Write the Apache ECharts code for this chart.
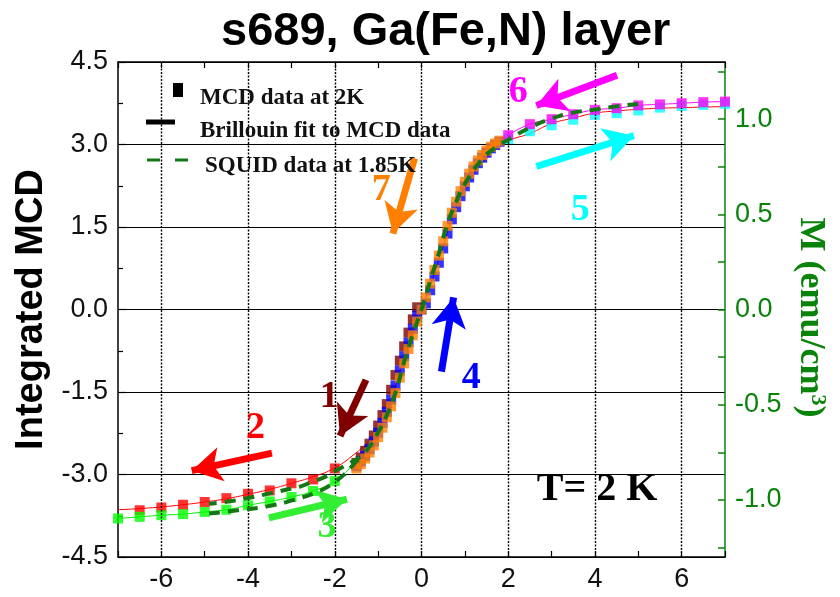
<!DOCTYPE html>
<html>
<head>
<meta charset="utf-8">
<script src="https://cdn.jsdelivr.net/npm/echarts@6/dist/echarts.min.js"></script>
<style>
html, body { margin: 0; padding: 0; background: #ffffff; }
#chart { width: 840px; height: 597px; }
</style>
</head>
<body>
<div id="chart"></div>
<script>
// ---- Field sweeps (T) and integrated MCD signal, one pair of arrays per sweep branch ----
// 1: virgin sweep towards negative field
const field1 = [-0.1, -0.2, -0.3, -0.4, -0.5, -0.6, -0.7, -0.8, -0.9, -1.0, -1.1, -1.2, -1.3, -1.4, -1.5];
const mcd1   = [0.04, -0.18, -0.42, -0.67, -0.93, -1.19, -1.46, -1.72, -1.92, -2.11, -2.29, -2.44, -2.57, -2.69, -2.79];
// 2: -2 T down to -7 T
const field2 = [-2, -2.5, -3, -3.5, -4, -4.5, -5, -5.5, -6, -6.5];
const mcd2   = [-2.89, -3.09, -3.16, -3.29, -3.35, -3.43, -3.50, -3.55, -3.60, -3.65];
// 3: -7 T back up to -2 T
const field3 = [-7, -6.5, -6, -5.5, -5, -4.5, -4, -3.5, -3, -2.5, -2];
const mcd3   = [-3.80, -3.77, -3.74, -3.72, -3.68, -3.64, -3.56, -3.49, -3.41, -3.30, -3.12];
// 4: -1.5 T up to +1.8 T
const field4 = [-1.5, -1.4, -1.3, -1.2, -1.1, -1.0, -0.9, -0.8, -0.7, -0.6, -0.5, -0.4, -0.3, -0.2, -0.1, 0,
                0.1, 0.2, 0.3, 0.4, 0.5, 0.6, 0.7, 0.8, 0.9, 1.0, 1.1, 1.2, 1.3, 1.4, 1.5, 1.6, 1.7, 1.8];
const mcd4   = [-2.85, -2.76, -2.66, -2.54, -2.40, -2.24, -2.06, -1.86, -1.64, -1.38, -1.11, -0.85, -0.60, -0.35, -0.11, 0.0,
                0.11, 0.35, 0.60, 0.85, 1.11, 1.38, 1.64, 1.86, 2.06, 2.24, 2.40, 2.54, 2.66, 2.76, 2.85, 2.93, 2.99, 3.05];
// 5: +2 T up to +7 T
const field5 = [2, 2.5, 3, 3.5, 4, 4.5, 5, 5.5, 6, 6.5, 7];
const mcd5   = [3.10, 3.24, 3.35, 3.45, 3.54, 3.57, 3.62, 3.67, 3.70, 3.72, 3.74];
// 6: +7 T back down to +2 T
const field6 = [7, 6.5, 6, 5.5, 5, 4.5, 4, 3.5, 3, 2.5, 2];
const mcd6   = [3.78, 3.77, 3.75, 3.73, 3.71, 3.66, 3.63, 3.55, 3.46, 3.37, 3.17];
// 7: +1.8 T down to -1.5 T
const field7 = [1.8, 1.7, 1.6, 1.5, 1.4, 1.3, 1.2, 1.1, 1.0, 0.9, 0.8, 0.7, 0.6, 0.5, 0.4, 0.3, 0.2, 0.1, 0,
                -0.1, -0.2, -0.3, -0.4, -0.5, -0.6, -0.7, -0.8, -0.9, -1.0, -1.1, -1.2, -1.3, -1.4, -1.5];
const mcd7   = [3.07, 3.02, 2.96, 2.89, 2.81, 2.71, 2.60, 2.47, 2.32, 2.15, 1.96, 1.76, 1.52, 1.24, 0.98, 0.72, 0.47, 0.22, 0.0,
                -0.22, -0.47, -0.72, -0.98, -1.24, -1.52, -1.76, -1.96, -2.15, -2.32, -2.47, -2.60, -2.71, -2.81, -2.89];

// Brillouin fit through the MCD data
const fitField = [-7, -6.5, -6, -5.5, -5, -4.5, -4, -3.5, -3, -2.5, -2, -1.5, -1.25, -1, -0.75, -0.5, -0.25, 0,
                  0.25, 0.5, 0.75, 1, 1.25, 1.5, 1.75, 2, 2.5, 3, 3.5, 4, 4.5, 5, 5.5, 6, 6.5, 7];
const fitMcd   = [-3.64, -3.62, -3.59, -3.55, -3.50, -3.44, -3.36, -3.27, -3.16, -3.04, -2.88, -2.60, -2.42, -2.18, -1.75, -1.15, -0.55, 0.0,
                  0.55, 1.15, 1.75, 2.2, 2.52, 2.75, 2.95, 3.07, 3.2, 3.38, 3.48, 3.57, 3.61, 3.64, 3.66, 3.67, 3.68, 3.69];
// thin guide through branch 3 into the steep part
const guide3Field = [-7, -6.5, -6, -5.5, -5, -4.5, -4, -3.5, -3, -2.5, -2, -1.55];
const guide3Mcd   = [-3.80, -3.77, -3.74, -3.72, -3.68, -3.64, -3.56, -3.49, -3.41, -3.30, -3.12, -2.80];

// SQUID magnetisation (emu/cm3), sweep down then sweep up
const squidDownField = [5.0, 4.5, 4.0, 3.5, 3.0, 2.5, 2.0, 1.7, 1.4, 1.0, 0.8, 0.6, 0.4, 0.2, 0.0, -0.2, -0.4, -0.6, -0.8, -1.0,
                        -1.2, -1.4, -1.6, -1.8, -2.0, -2.25, -2.5, -2.8, -3.0, -3.5, -4.0, -4.5, -4.9];
const squidDownM     = [1.08, 1.067, 1.05, 1.034, 1.003, 0.955, 0.892, 0.85, 0.79, 0.66, 0.565, 0.45, 0.295, 0.15, 0.0, -0.13, -0.275, -0.437, -0.555, -0.645,
                        -0.72, -0.77, -0.80, -0.825, -0.85, -0.882, -0.903, -0.93, -0.94, -0.966, -0.99, -1.01, -1.02];
const squidUpField = [-4.9, -4.25, -3.56, -2.95, -2.3, -2.0, -1.8, -1.6, -1.4];
const squidUpM     = [-1.072, -1.055, -1.034, -1.0, -0.948, -0.905, -0.87, -0.822, -0.77];

// Axis tick labels
const xTickLabels = [-6, -4, -2, 0, 2, 4, 6];
const mcdTickLabels = [-4.5, -3.0, -1.5, 0.0, 1.5, 3.0, 4.5];
const mTickLabels = [-1.0, -0.5, 0.0, 0.5, 1.0];
const mMinorTicks = [-1.25, -1.0, -0.75, -0.5, -0.25, 0, 0.25, 0.5, 0.75, 1.0, 1.25];

const SANS = '"Liberation Sans", Arial, sans-serif';
const SERIF = '"Liberation Serif", "Times New Roman", serif';
const AXIS_GREEN = '#0a830a';
const SQUID_GREEN = '#137813';

const pair = (xs, ys) => xs.map((x, i) => [x, ys[i]]);

// sweep-direction arrows and their numbers, in data coordinates (field, MCD)
const sweepArrows = [
  { n: '1', color: '#800000', from: [-1.28, -1.28], to: [-1.88, -2.30], text: [-2.13, -1.59] },
  { n: '2', color: '#ff0000', from: [-3.45, -2.61], to: [-5.30, -2.93], text: [-3.83, -2.15] },
  { n: '3', color: '#33ee33', from: [-3.52, -3.79], to: [-1.72, -3.45], text: [-2.18, -3.95] },
  { n: '4', color: '#0000ff', from: [0.46, -1.13], to: [0.74, 0.22], text: [1.15, -1.25] },
  { n: '5', color: '#00ffff', from: [2.65, 2.60], to: [4.90, 3.16], text: [3.66, 1.81] },
  { n: '6', color: '#ff00ff', from: [4.51, 4.26], to: [2.65, 3.71], text: [2.23, 3.96] },
  { n: '7', color: '#ff8000', from: [-0.16, 2.75], to: [-0.66, 1.38], text: [-0.93, 2.17] }
];

const squares = (name, xs, ys, color, z) => ({
  name: name, type: 'scatter', data: pair(xs, ys), symbol: 'rect', symbolSize: [10, 10],
  itemStyle: { color: color }, z: z, silent: true
});

const chart = echarts.init(document.getElementById('chart'), null, { renderer: 'canvas' });

const option = {
  animation: false,
  backgroundColor: '#ffffff',
  title: {
    text: 's689, Ga(Fe,N) layer',
    left: 216, top: 4,
    textStyle: { fontSize: 47, fontWeight: 'bold', fontFamily: SANS, color: '#000' }
  },
  grid: { left: 118, right: 115, top: 62, bottom: 40 },
  xAxis: [
    {
      type: 'value', min: -7, max: 7, interval: 1, position: 'bottom',
      axisLine: { onZero: false, lineStyle: { color: '#000', width: 1.5 } },
      axisTick: { inside: true, length: 6, lineStyle: { color: '#000', width: 1.2 } },
      axisLabel: {
        formatter: v => (xTickLabels.indexOf(v) >= 0 ? String(v) : ''),
        fontSize: 27, color: '#111', fontFamily: SANS, margin: 9
      },
      splitLine: { show: false }
    },
    {
      type: 'value', min: -7, max: 7, interval: 1, position: 'top',
      axisLine: { onZero: false, lineStyle: { color: '#000', width: 1.5 } },
      axisTick: { inside: true, length: 6, lineStyle: { color: '#000', width: 1.2 } },
      axisLabel: { show: false },
      splitLine: { show: false }
    }
  ],
  yAxis: [
    {
      type: 'value', min: -4.5, max: 4.5, interval: 1.5, position: 'left',
      axisLine: { show: true, onZero: false, lineStyle: { color: '#000', width: 1.5 } },
      axisTick: { show: true, inside: true, length: 8, lineStyle: { color: '#000', width: 1.2 } },
      minorTick: { show: true, splitNumber: 2, length: 5, lineStyle: { color: '#000', width: 1.2 } },
      axisLabel: {
        formatter: v => (mcdTickLabels.indexOf(v) >= 0 ? v.toFixed(1) : ''),
        fontSize: 27, color: '#111', fontFamily: SANS, margin: 10
      },
      splitLine: { show: true, lineStyle: { color: '#000', width: 1 } },
      name: 'Integrated MCD', nameLocation: 'middle', nameGap: 66, nameRotate: 90,
      nameTextStyle: { fontSize: 38, fontWeight: 'bold', fontFamily: SANS, color: '#000' }
    },
    {
      type: 'value', min: -1.3, max: 1.3, position: 'right',
      axisLine: { show: true, onZero: false, lineStyle: { color: AXIS_GREEN, width: 1.5 } },
      axisTick: { show: true, inside: true, length: 7, customValues: mMinorTicks, lineStyle: { color: AXIS_GREEN, width: 1.5 } },
      axisLabel: {
        customValues: mTickLabels,
        formatter: v => v.toFixed(1),
        fontSize: 27, color: AXIS_GREEN, fontFamily: SANS, margin: 10
      },
      splitLine: { show: false },
      name: '{n|M (emu/cm}{s|3}{n|)}', nameLocation: 'middle', nameGap: 62, nameRotate: -90,
      nameTextStyle: {
        fontSize: 36, fontWeight: 'bold', fontFamily: SERIF, color: AXIS_GREEN,
        padding: [0, 0, 0, 16],
        rich: {
          n: { fontSize: 36, fontWeight: 'bold', fontFamily: SERIF, color: AXIS_GREEN },
          s: { fontSize: 22, fontWeight: 'bold', fontFamily: SERIF, color: AXIS_GREEN, verticalAlign: 'top' }
        }
      }
    }
  ],
  series: [
    {
      // vertical dotted grid at the labelled field values
      name: 'field grid', type: 'line', data: [], z: 1, silent: true,
      markLine: {
        silent: true, symbol: ['none', 'none'], label: { show: false },
        lineStyle: { color: '#000', width: 1.4, type: [2, 1.5] },
        data: xTickLabels.map(v => ({ xAxis: v }))
      }
    },
    {
      name: 'Brillouin fit', type: 'line', data: pair(fitField, fitMcd), smooth: true, showSymbol: false,
      lineStyle: { color: '#ff0000', width: 1 }, z: 2, silent: true
    },
    {
      name: 'guide 3', type: 'line', data: pair(guide3Field, guide3Mcd), smooth: true, showSymbol: false,
      lineStyle: { color: '#00ee00', width: 1 }, z: 2, silent: true
    },
    {
      name: 'guide 6', type: 'line', data: pair(field6, mcd6), smooth: true, showSymbol: false,
      lineStyle: { color: '#ff00ff', width: 1 }, z: 2, silent: true
    },
    squares('sweep 2', field2, mcd2, '#ff0000', 3),
    squares('sweep 3', field3, mcd3, '#00ff00', 3),
    squares('sweep 1', field1, mcd1, '#800000', 3),
    squares('sweep 4', field4, mcd4, '#0000ff', 4),
    squares('sweep 7', field7, mcd7, '#ff8000', 5),
    squares('sweep 5', field5, mcd5, '#00ffff', 4),
    squares('sweep 6', field6, mcd6, '#ff00ff', 5),
    {
      name: 'SQUID down', type: 'line', yAxisIndex: 1, data: pair(squidDownField, squidDownM), smooth: true,
      showSymbol: false, lineStyle: { color: SQUID_GREEN, width: 4, type: [11, 8] }, z: 6, silent: true
    },
    {
      name: 'SQUID up', type: 'line', yAxisIndex: 1, data: pair(squidUpField, squidUpM), smooth: true,
      showSymbol: false, lineStyle: { color: SQUID_GREEN, width: 4, type: [11, 8] }, z: 6, silent: true
    },
    {
      name: 'annotations', type: 'line', data: [], z: 7, silent: true,
      markLine: {
        silent: true, symbol: ['none', 'arrow'], symbolSize: [26, 30], label: { show: false },
        data: sweepArrows.map(a => [
          { coord: a.from, symbol: 'none', lineStyle: { color: a.color, width: 7, type: 'solid' } },
          { coord: a.to, symbol: 'arrow', symbolSize: [26, 30] }
        ])
      },
      markPoint: {
        silent: true,
        data: sweepArrows.map(a => ({
          coord: a.text, symbol: 'circle', symbolSize: 1, itemStyle: { color: 'rgba(0,0,0,0)' },
          label: { show: true, position: 'inside', formatter: a.n, color: a.color, fontSize: 38, fontWeight: 'bold', fontFamily: SERIF }
        })).concat([{
          coord: [4.05, -3.28], symbol: 'circle', symbolSize: 1, itemStyle: { color: 'rgba(0,0,0,0)' },
          label: { show: true, position: 'inside', formatter: 'T= 2 K', color: '#000', fontSize: 40, fontWeight: 'bold', fontFamily: SERIF }
        }])
      }
    }
  ],
  graphic: [
    { type: 'rect', shape: { x: 173, y: 83, width: 10, height: 14 }, style: { fill: '#000' }, z: 10 },
    { type: 'text', style: { text: 'MCD data at 2K', x: 200, y: 98, verticalAlign: 'middle', font: 'bold 23px "Liberation Serif", serif', fill: '#111' }, z: 10 },
    { type: 'line', shape: { x1: 146, y1: 122, x2: 175, y2: 122 }, style: { stroke: '#000', lineWidth: 5 }, z: 10 },
    { type: 'text', style: { text: 'Brillouin fit to MCD data', x: 200, y: 131, verticalAlign: 'middle', font: 'bold 23px "Liberation Serif", serif', fill: '#111' }, z: 10 },
    { type: 'line', shape: { x1: 147, y1: 160, x2: 160, y2: 160 }, style: { stroke: SQUID_GREEN, lineWidth: 3 }, z: 10 },
    { type: 'line', shape: { x1: 175, y1: 160, x2: 188, y2: 160 }, style: { stroke: SQUID_GREEN, lineWidth: 3 }, z: 10 },
    { type: 'text', style: { text: 'SQUID data at 1.85K', x: 205, y: 166, verticalAlign: 'middle', font: 'bold 23px "Liberation Serif", serif', fill: '#111' }, z: 10 }
  ]
};

chart.setOption(option);
</script>
</body>
</html>
